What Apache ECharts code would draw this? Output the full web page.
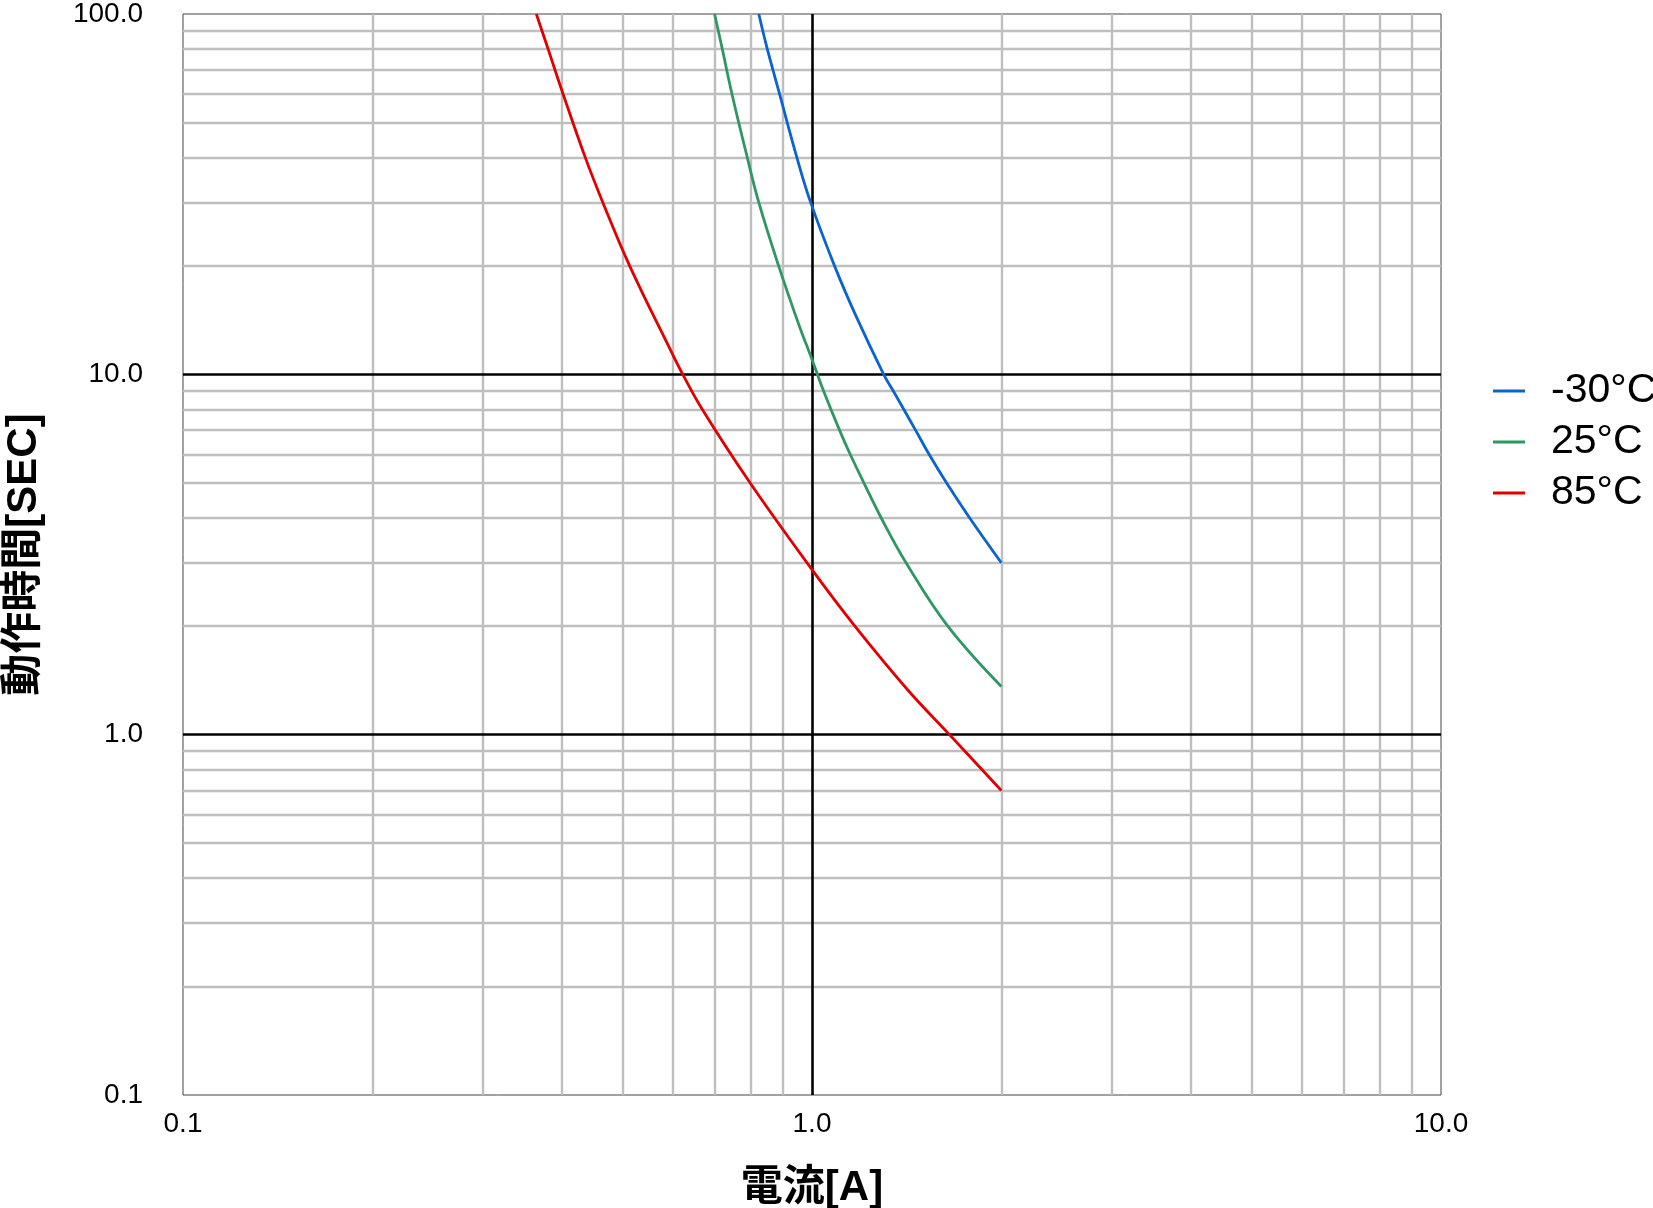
<!DOCTYPE html>
<html>
  <head>
    <meta charset="utf-8" />
    <title>動作時間</title>
    <script src="https://cdn.jsdelivr.net/npm/echarts@6.0.0/dist/echarts.min.js"></script>
    <style>
      html, body { margin: 0; padding: 0; background: #fff; }
      #chart { width: 1653px; height: 1208px; }
    </style>
  </head>
  <body>
    <div id="chart"></div>
    <script type="text/javascript">
      // current [A] / time [s]
      const seriesNames = ['-30°C', '25°C', '85°C'];
      const seriesColors = ['#0a64cf', '#2f9763', '#e00000'];

      const currentM30 = [0.823, 0.849, 0.888, 0.946, 0.995, 1.086, 1.175, 1.30, 1.346, 1.399, 1.461, 1.535, 1.636, 1.780, 2.0];
      const timeM30    = [100, 80, 60, 40, 30, 20, 14.5, 10, 9, 8, 7, 6, 5, 4, 3.0];

      const current25 = [0.70, 0.720, 0.746, 0.789, 0.823, 0.885, 0.955, 1.0, 1.043, 1.106, 1.15, 1.209, 1.288, 1.411, 1.644, 2.0];
      const time25    = [100, 80, 60, 40, 30, 20, 13.6, 11.0, 9, 7, 6, 5, 4, 3, 2, 1.36];

      const current85 = [0.3645, 0.3805, 0.402, 0.436, 0.465, 0.513, 0.599, 0.623, 0.669, 0.797, 1.0, 1.17, 1.42, 1.654, 2.0];
      const time85    = [100, 80, 60, 40, 30, 20, 11.45, 10, 8, 5, 2.87, 2, 1.33, 1.0, 0.70];

      // grid lines
      const xMinorLines = [0.2, 0.3, 0.4, 0.5, 0.6, 0.7, 0.8, 0.9, 2, 3, 4, 5, 6, 7, 8, 9];
      const yMinorLines = [0.2, 0.3, 0.4, 0.5, 0.6, 0.7, 0.8, 0.9, 2, 3, 4, 5, 6, 7, 8, 9, 20, 30, 40, 50, 60, 70, 80, 90];
      const xMajorLines = [1];
      const yMajorLines = [1, 10];

      const font = '"Liberation Sans", "Noto Sans CJK JP", sans-serif';

      function zip(xs, ys) {
        return xs.map((x, i) => [x, ys[i]]);
      }

      const chart = echarts.init(document.getElementById('chart'), null, { renderer: 'canvas' });

      const minorMarks = xMinorLines.map(v => ({ xAxis: v }))
        .concat(yMinorLines.map(v => ({ yAxis: v })));
      const majorMarks = xMajorLines.map(v => ({ xAxis: v }))
        .concat(yMajorLines.map(v => ({ yAxis: v })));

      const curveData = [zip(currentM30, timeM30), zip(current25, time25), zip(current85, time85)];

      chart.setOption({
        animation: false,
        grid: {
          left: 183, right: 212, top: 14, bottom: 113,
          outerBoundsMode: 'none',
          show: true, borderColor: '#444', borderWidth: 1, backgroundColor: '#fff'
        },
        legend: {
          data: seriesNames,
          orient: 'vertical',
          left: 1488,
          top: 365,
          icon: 'rect',
          itemWidth: 32,
          itemHeight: 3,
          itemGap: 9,
          textStyle: { fontSize: 41, color: '#000', fontFamily: font, padding: [0, 0, 0, 21], lineHeight: 42 }
        },
        xAxis: {
          type: 'log',
          logBase: 10,
          min: 0.1,
          max: 10,
          name: '電流[A]',
          nameLocation: 'middle',
          nameGap: 72,
          nameTextStyle: { fontSize: 42, fontWeight: 'bold', color: '#000', fontFamily: font },
          axisLine: { show: false },
          axisTick: { show: false },
          splitLine: { show: false },
          axisLabel: {
            fontSize: 28, color: '#000', fontFamily: font, margin: 15,
            formatter: v => Number(v).toFixed(1)
          }
        },
        yAxis: {
          type: 'log',
          logBase: 10,
          min: 0.1,
          max: 100,
          name: '動作時間[SEC]',
          nameLocation: 'middle',
          nameGap: 138,
          nameTextStyle: { fontSize: 42, fontWeight: 'bold', color: '#000', fontFamily: font },
          axisLine: { show: false },
          axisTick: { show: false },
          splitLine: { show: false },
          axisLabel: {
            fontSize: 28, color: '#000', fontFamily: font, margin: 40,
            formatter: v => Number(v).toFixed(1)
          }
        },
        series: [
          {
            name: 'minor-grid',
            type: 'line',
            data: [],
            z: 1,
            silent: true,
            markLine: {
              silent: true,
              symbol: ['none', 'none'],
              label: { show: false },
              lineStyle: { color: '#bfbfbf', width: 2.4, type: 'solid' },
              data: minorMarks
            }
          },
          {
            name: 'major-grid',
            type: 'line',
            data: [],
            z: 2,
            silent: true,
            markLine: {
              silent: true,
              symbol: ['none', 'none'],
              label: { show: false },
              lineStyle: { color: '#000', width: 2.6, type: 'solid' },
              data: majorMarks
            }
          }
        ].concat(seriesNames.map((name, i) => ({
          name: name,
          type: 'line',
          data: curveData[i],
          smooth: 0.4,
          symbol: 'none',
          z: 5,
          lineStyle: { color: seriesColors[i], width: 2.8 },
          itemStyle: { color: seriesColors[i] }
        })))
      });
    </script>
  </body>
</html>
